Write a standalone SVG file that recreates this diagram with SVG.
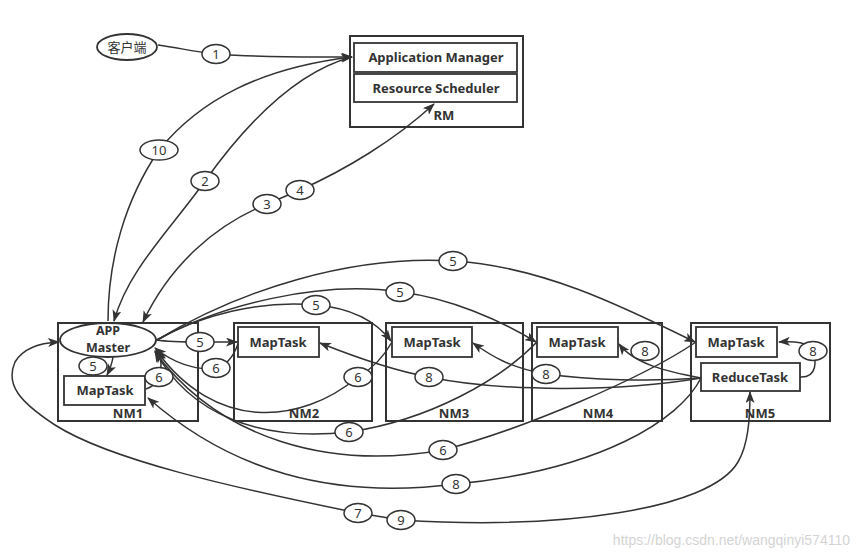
<svg xmlns="http://www.w3.org/2000/svg" width="860" height="555" viewBox="0 0 860 555">
<defs>
<marker id="arr" viewBox="0 0 12 9" refX="11" refY="4.5" markerWidth="12" markerHeight="9" markerUnits="userSpaceOnUse" orient="auto-start-reverse"><path d="M0,0 L12,4.5 L0,9 L3,4.5 z" fill="#333"/></marker>
</defs>
<style>
.box{fill:#fff;stroke:#333;stroke-width:2}
.inner{fill:#fff;stroke:#333;stroke-width:1.8}
.t{font-family:"Noto Sans","Noto Sans CJK SC",sans-serif;font-size:13px;font-weight:bold;fill:#333;text-anchor:middle}
.am{font-size:12.5px}
.e{fill:none;stroke:#333;stroke-width:1.5}
.lb{fill:#fff;stroke:#333;stroke-width:1.5}
.n{font-family:"Noto Sans",sans-serif;font-size:13px;fill:#333;text-anchor:middle}
.wm{font-family:"Liberation Sans",sans-serif;font-size:14px;fill:#d4d4d4;text-anchor:end}
</style>
<rect width="860" height="555" fill="#fff"/>

<g id="client">
<ellipse class="inner" cx="127" cy="47" rx="30" ry="13"/>
<text x="127" y="51.5" font-family="Noto Sans CJK SC, sans-serif" font-size="13" fill="#333" text-anchor="middle">客户端</text>
</g>

<g id="RM">
<rect class="box" x="350" y="36" width="173" height="91"/>
<text class="t" x="444" y="120">RM</text>
</g>
<g id="ApplicationManager">
<rect class="inner" x="354" y="43" width="163" height="29"/>
<text class="t" x="436" y="62">Application Manager</text>
</g>
<g id="ResourceScheduler">
<rect class="inner" x="354" y="74" width="163" height="28"/>
<text class="t" x="436" y="93">Resource Scheduler</text>
</g>

<g id="NM1">
<rect class="box" x="58" y="323" width="140" height="98"/>
<text class="t" x="128" y="418">NM1</text>
</g>
<g id="APPMaster">
<ellipse class="inner" cx="108" cy="340" rx="48" ry="17"/>
<text class="t am" x="108" y="334.5">APP</text>
<text class="t am" x="108" y="351.5">Master</text>
</g>
<g id="NM1MapTask">
<rect class="inner" x="64" y="376" width="81" height="29"/>
<text class="t" x="105" y="395">MapTask</text>
</g>

<g id="NM2">
<rect class="box" x="234" y="323" width="138" height="98"/>
<text class="t" x="304" y="418">NM2</text>
</g>
<g id="NM2MapTask">
<rect class="inner" x="238" y="327" width="81" height="30"/>
<text class="t" x="278" y="346.5">MapTask</text>
</g>

<g id="NM3">
<rect class="box" x="386" y="323" width="137" height="98"/>
<text class="t" x="454" y="418">NM3</text>
</g>
<g id="NM3MapTask">
<rect class="inner" x="392" y="327" width="80" height="30"/>
<text class="t" x="432" y="346.5">MapTask</text>
</g>

<g id="NM4">
<rect class="box" x="532" y="323" width="130" height="98"/>
<text class="t" x="598" y="418">NM4</text>
</g>
<g id="NM4MapTask">
<rect class="inner" x="537" y="327" width="81" height="30"/>
<text class="t" x="577" y="346.5">MapTask</text>
</g>

<g id="NM5">
<rect class="box" x="691" y="323" width="139" height="98"/>
<text class="t" x="760" y="418">NM5</text>
</g>
<g id="NM5MapTask">
<rect class="inner" x="696" y="327" width="81" height="30"/>
<text class="t" x="736" y="346.5">MapTask</text>
</g>
<g id="ReduceTask">
<rect class="inner" x="701" y="363" width="99" height="28"/>
<text class="t" x="750" y="381.5">ReduceTask</text>
</g>

<g id="connectors">
<path class="e" marker-end="url(#arr)" d="M158,45 C180,48 195,52 216,54 C270,58 310,57 352,57"/>
<path class="e" marker-start="url(#arr)" d="M352,57 C260,68 200,100 159,150 C125,200 108,260 108,321"/>
<path class="e" marker-end="url(#arr)" d="M352,57 C295,72 245,125 205,181 C170,230 128,270 114,321"/>
<path class="e" marker-start="url(#arr)" marker-end="url(#arr)" d="M143,322 C170,265 215,225 267,204 L300,190 C345,170 395,140 434,104"/>

<path class="e" marker-end="url(#arr)" d="M156,340 C170,342 185,342 200,342 L237,342"/>
<path class="e" marker-end="url(#arr)" d="M157,340 C200,315 260,300 316,305 C350,308 375,320 391,341"/>
<path class="e" marker-end="url(#arr)" d="M157,340 C220,305 320,280 400,292 C450,298 500,320 536,342"/>
<path class="e" marker-end="url(#arr)" d="M157,340 C240,290 350,255 453,261 C540,266 620,305 695,342"/>
<path class="e" marker-end="url(#arr)" d="M113,357 C112,364 110,369 107,375"/>

<path class="e" marker-end="url(#arr)" d="M146,389 C152,387 157,383 159,377 C162,368 162,360 158,350"/>
<path class="e" marker-end="url(#arr)" d="M238,344 C234,355 228,365 216,368 C195,371 172,362 155,348"/>
<path class="e" marker-end="url(#arr)" d="M392,342 C382,360 370,370 358,377 C300,425 215,432 156,350"/>
<path class="e" marker-end="url(#arr)" d="M537,342 C500,380 430,420 349,432 C260,442 190,415 155,351"/>
<path class="e" marker-end="url(#arr)" d="M696,342 C640,380 520,430 443,450 C330,470 220,440 155,352"/>

<path class="e" marker-end="url(#arr)" d="M701,378 C680,420 600,470 456,484 C330,500 230,470 148,398"/>
<path class="e" marker-end="url(#arr)" d="M701,378 C620,392 500,392 429,377 C390,370 350,355 320,343"/>
<path class="e" marker-end="url(#arr)" d="M701,378 C650,382 590,380 546,374 C510,368 490,355 473,343"/>
<path class="e" marker-end="url(#arr)" d="M701,378 C670,372 635,365 619,344"/>
<path class="e" marker-end="url(#arr)" d="M800,377 C818,378 816,360 813,351 C808,342 795,341 779,342"/>

<path class="e" marker-start="url(#arr)" marker-end="url(#arr)" d="M750,392 C750,420 748,445 738,462 C710,510 560,530 401,520 L358,513 C230,487 110,460 55,425 C20,402 5,385 15,362 C22,350 38,343 59,342"/>

<ellipse class="lb" cx="216" cy="54" rx="14" ry="9.5"/><text class="n" x="216" y="58.5">1</text>
<ellipse class="lb" cx="159" cy="150" rx="19" ry="10"/><text class="n" x="159" y="154.5">10</text>
<ellipse class="lb" cx="205" cy="181" rx="14" ry="9.5"/><text class="n" x="205" y="185.5">2</text>
<ellipse class="lb" cx="267" cy="204" rx="14" ry="9.5"/><text class="n" x="267" y="208.5">3</text>
<ellipse class="lb" cx="300" cy="190" rx="14" ry="9.5"/><text class="n" x="300" y="194.5">4</text>
<ellipse class="lb" cx="200" cy="342" rx="14" ry="9.5"/><text class="n" x="200" y="346.5">5</text>
<ellipse class="lb" cx="316" cy="305" rx="14" ry="9.5"/><text class="n" x="316" y="309.5">5</text>
<ellipse class="lb" cx="400" cy="292" rx="14" ry="9.5"/><text class="n" x="400" y="296.5">5</text>
<ellipse class="lb" cx="453" cy="261" rx="14" ry="9.5"/><text class="n" x="453" y="265.5">5</text>
<ellipse class="lb" cx="93" cy="366" rx="14" ry="9"/><text class="n" x="93" y="370.5">5</text>
<ellipse class="lb" cx="159" cy="377" rx="14" ry="9.5"/><text class="n" x="159" y="381.5">6</text>
<ellipse class="lb" cx="216" cy="368" rx="14" ry="9.5"/><text class="n" x="216" y="372.5">6</text>
<ellipse class="lb" cx="358" cy="377" rx="14" ry="9.5"/><text class="n" x="358" y="381.5">6</text>
<ellipse class="lb" cx="349" cy="432" rx="14" ry="9.5"/><text class="n" x="349" y="436.5">6</text>
<ellipse class="lb" cx="443" cy="450" rx="14" ry="9.5"/><text class="n" x="443" y="454.5">6</text>
<ellipse class="lb" cx="456" cy="484" rx="14" ry="9.5"/><text class="n" x="456" y="488.5">8</text>
<ellipse class="lb" cx="429" cy="377" rx="14" ry="9.5"/><text class="n" x="429" y="381.5">8</text>
<ellipse class="lb" cx="546" cy="374" rx="14" ry="9.5"/><text class="n" x="546" y="378.5">8</text>
<ellipse class="lb" cx="645" cy="351" rx="14" ry="9.5"/><text class="n" x="645" y="355.5">8</text>
<ellipse class="lb" cx="813" cy="351" rx="14" ry="9.5"/><text class="n" x="813" y="355.5">8</text>
<ellipse class="lb" cx="358" cy="513" rx="14" ry="9.5"/><text class="n" x="358" y="517.5">7</text>
<ellipse class="lb" cx="401" cy="520" rx="14" ry="9.5"/><text class="n" x="401" y="524.5">9</text>
</g>

<text class="wm" x="850" y="545">https://blog.csdn.net/wangqinyi574110</text>
</svg>
